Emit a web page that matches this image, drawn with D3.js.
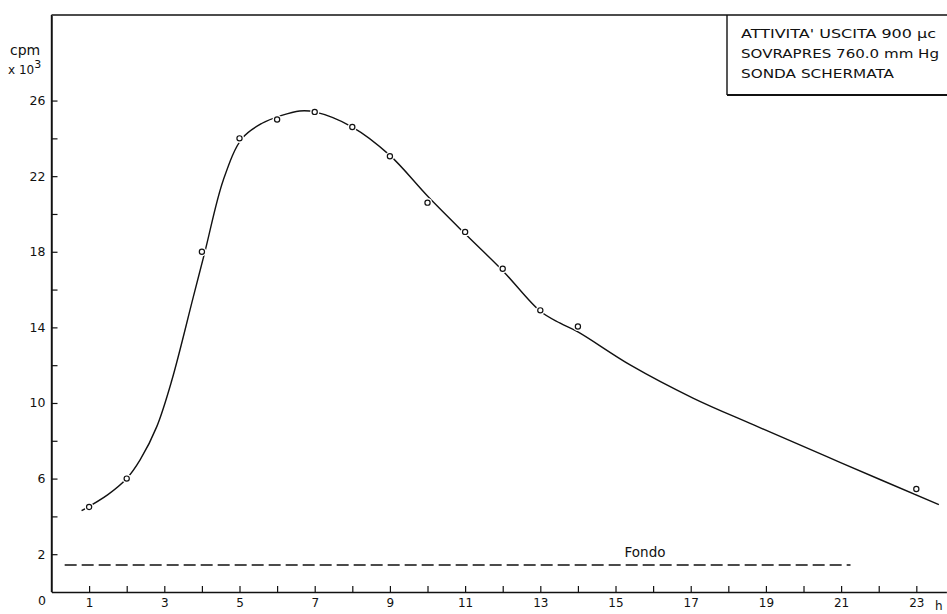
<!DOCTYPE html>
<html><head><meta charset="utf-8">
<script src="https://cdn.jsdelivr.net/npm/d3@7"></script>
<style>
body{margin:0;background:#fff;}
text{font-family:"DejaVu Sans","Liberation Sans",sans-serif;fill:#111;}
</style></head>
<body><svg id="c" width="947" height="614"></svg>
<script>
// measured data points (hours, cpm x 10^3)
const hours  = [1, 2, 4, 5, 6, 7, 8, 9, 10, 11, 12, 13, 14, 23];
const counts = [4.5, 6.0, 18.0, 24.0, 25.0, 25.4, 24.6, 23.05, 20.6, 19.05, 17.1, 14.9, 14.05, 5.45];
// hand-drawn fitted curve
const curveX = [0.8, 1.5, 2, 2.36, 2.8, 3.2, 3.77, 4.08, 4.57, 5.07, 5.6, 6.1, 6.6, 7, 8, 9, 10, 11, 12, 13, 13.53, 14, 15.4, 17.06, 18.66, 20.97, 23.6];
const curveY = [4.3, 5.15, 6.0, 7.0, 8.75, 11.2, 15.6, 18.0, 21.8, 24.0, 24.8, 25.2, 25.45, 25.4, 24.6, 23.1, 20.95, 18.95, 17.0, 14.85, 14.22, 13.76, 12.0, 10.26, 8.85, 6.86, 4.62];
// background level "Fondo"
const fondoLevel = 1.43;
const fondoRange = [0.35, 21.25];
const xTicks = d3.range(1, 24);
const xLabels = [1, 3, 5, 7, 9, 11, 13, 15, 17, 19, 21, 23];
const yTicks = d3.range(2, 27, 2);
const yLabels = [2, 6, 10, 14, 18, 22, 26];
const legendLines = ["ATTIVITA' USCITA  900 \u00B5c", "SOVRAPRES  760.0 mm Hg", "SONDA SCHERMATA"];
const legendWidths = [195, 198, 153];

const svg = d3.select("#c");
const x = d3.scaleLinear().domain([0, 23.8]).range([51.5, 946.4]);
const y = d3.scaleLinear().domain([0, 30.5]).range([592, 15.5]);

// x axis
const gx = svg.append("g").attr("transform", `translate(0,${y(0)})`)
  .call(d3.axisBottom(x).tickValues(xTicks).tickSizeInner(-6).tickSizeOuter(0).tickPadding(5)
    .tickFormat(d => xLabels.includes(d) ? d : ""));
gx.select(".domain").attr("stroke", "#111").attr("stroke-width", 1.6);
gx.selectAll(".tick line").attr("stroke", "#111").attr("stroke-width", 1.2);
gx.selectAll(".tick text").attr("font-size", 12).attr("font-family", "DejaVu Sans").attr("dy", "0.85em");

// y axis
const gy = svg.append("g").attr("transform", `translate(${x(0)},0)`)
  .call(d3.axisLeft(y).tickValues(yTicks).tickSizeInner(-6).tickSizeOuter(0).tickPadding(6)
    .tickFormat(d => yLabels.includes(d) ? d : ""));
gy.select(".domain").attr("stroke", "#111").attr("stroke-width", 1.4);
gy.selectAll(".tick line").attr("stroke", "#111").attr("stroke-width", 1.2);
gy.selectAll(".tick text").attr("font-size", 12.5).attr("font-family", "DejaVu Sans");

// extend y axis to top and top border
svg.append("line").attr("x1", x(0)).attr("x2", x(0)).attr("y1", 15).attr("y2", y(0)).attr("stroke", "#111").attr("stroke-width", 1.4);
svg.append("line").attr("x1", x(0)).attr("x2", 947).attr("y1", 15).attr("y2", 15).attr("stroke", "#111").attr("stroke-width", 1.5);

// origin label and units
svg.append("text").attr("x", 46).attr("y", 605).attr("text-anchor", "end").attr("font-size", 12.5).text("0");
svg.append("text").attr("x", 935).attr("y", 610).attr("font-size", 12).text("h");
svg.append("text").attr("x", 10).attr("y", 55).attr("font-size", 14).text("cpm");
const u = svg.append("text").attr("x", 8).attr("y", 74).attr("font-size", 12);
u.append("tspan").text("x 10");
u.append("tspan").attr("dy", -6).attr("font-size", 11).text("3");

// legend box
svg.append("line").attr("x1", 727).attr("x2", 727).attr("y1", 15).attr("y2", 95).attr("stroke", "#111").attr("stroke-width", 1.4);
svg.append("line").attr("x1", 727).attr("x2", 947).attr("y1", 95).attr("y2", 95).attr("stroke", "#111").attr("stroke-width", 2.2);
svg.selectAll(".leg").data(legendLines).join("text").attr("class", "leg")
  .attr("x", 741).attr("y", (d, i) => 38 + i * 20).attr("font-size", 13)
  .attr("textLength", (d, i) => legendWidths[i]).attr("lengthAdjust", "spacingAndGlyphs")
  .text(d => d);

// Fondo dashed line
svg.append("line").attr("x1", x(fondoRange[0])).attr("x2", x(fondoRange[1]))
  .attr("y1", y(fondoLevel)).attr("y2", y(fondoLevel))
  .attr("stroke", "#111").attr("stroke-width", 1.5).attr("stroke-dasharray", "12,5");
svg.append("text").attr("x", 645).attr("y", 557).attr("text-anchor", "middle").attr("font-size", 13.5).text("Fondo");

// fitted curve
const pts = curveX.map((v, i) => [v, curveY[i]]);
svg.append("path").datum(pts)
  .attr("d", d3.line().x(d => x(d[0])).y(d => y(d[1])).curve(d3.curveCatmullRom.alpha(0.5)))
  .attr("fill", "none").attr("stroke", "#111").attr("stroke-width", 1.4);

// points (with small gap in the curve)
const data = hours.map((h, i) => ({h, c: counts[i]}));
svg.selectAll(".halo").data(data).join("circle").attr("class", "halo")
  .attr("cx", d => x(d.h)).attr("cy", d => y(d.c)).attr("r", 4.6).attr("fill", "#fff");
svg.selectAll(".pt").data(data).join("circle").attr("class", "pt")
  .attr("cx", d => x(d.h)).attr("cy", d => y(d.c)).attr("r", 2.6)
  .attr("fill", "#fff").attr("stroke", "#111").attr("stroke-width", 1.2);
</script></body></html>
